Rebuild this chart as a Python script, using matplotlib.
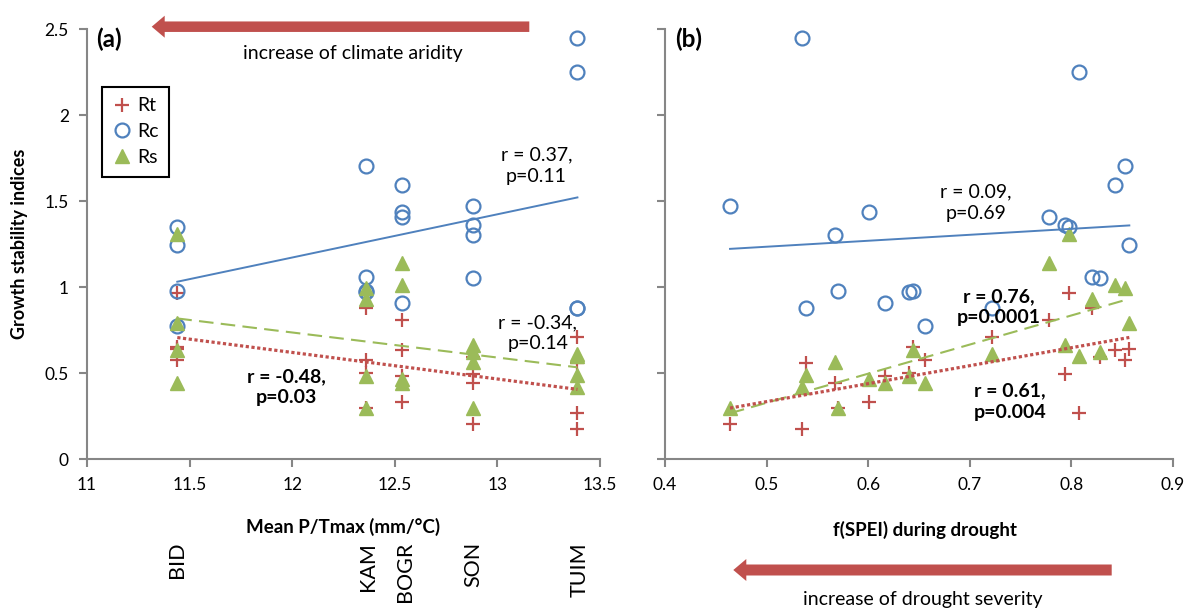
import matplotlib
matplotlib.use('Agg')
import numpy as np
import matplotlib.pyplot as plt
from matplotlib.patches import FancyArrow
from matplotlib.transforms import IdentityTransform

plt.rcParams['font.family'] = ['Lato', 'DejaVu Sans']

# sites and their mean P/Tmax (mm/°C)
sites = ['BID', 'KAM', 'BOGR', 'SON', 'TUIM']
site_ptmax = [11.44, 12.36, 12.535, 12.88, 13.39]

# one entry per drought event (4 per site)
event_site = ['BID'] * 4 + ['KAM'] * 4 + ['BOGR'] * 4 + ['SON'] * 4 + ['TUIM'] * 4
spei = [0.798, 0.857, 0.644, 0.656,
        0.853, 0.820, 0.570, 0.640,
        0.843, 0.601, 0.778, 0.617,
        0.464, 0.794, 0.567, 0.828,
        0.535, 0.807, 0.722, 0.539]
rt = [0.969, 0.640, 0.652, 0.577,
      0.578, 0.880, 0.296, 0.500,
      0.636, 0.333, 0.812, 0.486,
      0.205, 0.498, 0.445, 0.597,
      0.174, 0.270, 0.711, 0.558]
rc = [1.352, 1.246, 0.978, 0.776,
      1.707, 1.060, 0.980, 0.975,
      1.595, 1.438, 1.408, 0.910,
      1.472, 1.365, 1.304, 1.056,
      2.451, 2.250, 0.878, 0.881]
rs = [1.307, 0.794, 0.636, 0.446,
      0.994, 0.930, 0.296, 0.484,
      1.013, 0.467, 1.140, 0.443,
      0.296, 0.665, 0.567, 0.621,
      0.422, 0.603, 0.614, 0.490]

ptmax = [site_ptmax[sites.index(s)] for s in event_site]

red = '#C0504D'
blue = '#4F81BD'
green = '#9BBB59'
grey = '#868686'

W, H = 1189, 608
fig = plt.figure(figsize=(W / 100, H / 100), dpi=100)
ax1 = fig.add_axes([87 / W, 1 - 459.3 / H, 513 / W, 430 / H])
ax2 = fig.add_axes([665 / W, 1 - 459.3 / H, 508 / W, 430 / H])


def draw(ax, x):
    ax.plot(x, rt, ls='none', marker='+', ms=10, mew=1.6, color=red, label='Rt', zorder=3)
    ax.plot(x, rc, ls='none', marker='o', ms=10, mew=1.6, mfc='none', mec=blue, label='Rc', zorder=3)
    ax.plot(x, rs, ls='none', marker='^', ms=10, color=green, label='Rs', zorder=3)
    xx = np.array([min(x), max(x)])
    # linear trend lines
    p = np.polyfit(x, rc, 1)
    ax.plot(xx, np.polyval(p, xx), color=blue, lw=1.4, zorder=4)
    p = np.polyfit(x, rs, 1)
    ax.plot(xx, np.polyval(p, xx), color=green, lw=1.5, dashes=(7, 3.5), zorder=4)
    p = np.polyfit(x, rt, 1)
    ax.plot(xx, np.polyval(p, xx), color=red, lw=2.3, ls=(0, (1, 0.8)),
            dash_capstyle='butt', zorder=4)
    ax.set_ylim(0, 2.5)
    ax.set_yticks([0, 0.5, 1, 1.5, 2, 2.5])
    for s in ['top', 'right']:
        ax.spines[s].set_visible(False)
    for s in ['left', 'bottom']:
        ax.spines[s].set_color(grey)
        ax.spines[s].set_linewidth(1.5)
    ax.tick_params(direction='out', length=6, width=1.5, color=grey, labelsize=12.5, pad=7)


draw(ax1, ptmax)
draw(ax2, spei)

ax1.set_xlim(11, 13.5)
ax1.set_xticks([11, 11.5, 12, 12.5, 13, 13.5])
ax1.set_xticklabels(['11', '11.5', '12', '12.5', '13', '13.5'])
ax1.set_yticklabels(['0', '0.5', '1', '1.5', '2', '2.5'])

ax2.set_xlim(0.4, 0.9)
ax2.set_xticks([0.4, 0.5, 0.6, 0.7, 0.8, 0.9])
ax2.set_xticklabels(['0.4', '0.5', '0.6', '0.7', '0.8', '0.9'])
ax2.set_yticklabels([])

leg = ax1.legend(loc='upper left', bbox_to_anchor=(102.3 / W, 1 - 86.7 / H), bbox_transform=fig.transFigure,
                 borderaxespad=0, fontsize=14, handlelength=0.9, handletextpad=0.35, labelspacing=0.45,
                 borderpad=0.55, fancybox=False, edgecolor='black', framealpha=1)
leg.get_frame().set_linewidth(1.5)

# panel letters
fig.text(96 / W, 1 - 39 / H, '(a)', fontsize=17.5, fontweight='bold', va='center', ha='left')
fig.text(675 / W, 1 - 39 / H, '(b)', fontsize=17.5, fontweight='bold', va='center', ha='left')

# axis labels
fig.text(20 / W, 1 - 244 / H, 'Growth stability indices', rotation=90, fontsize=13,
         fontweight='bold', ha='center', va='center')
fig.text(343 / W, 1 - 527 / H, 'Mean P/Tmax (mm/°C)', fontsize=13.5, fontweight='bold',
         ha='center', va='center')
fig.text(925 / W, 1 - 530 / H, 'f(SPEI) during drought', fontsize=13.5, fontweight='bold',
         ha='center', va='center')

# site names under panel (a)
site_px = [176.7, 368, 405, 473, 580]
for name, px in zip(sites, site_px):
    fig.text(px / W, 1 - 542 / H, name, rotation=90, fontsize=15.5, ha='center', va='top')

# correlation notes
ax1.text(13.19, 1.706, 'r = 0.37,\np=0.11', fontsize=14, ha='center', va='center', linespacing=1.3)
ax1.text(13.197, 0.734, 'r = -0.34,\np=0.14', fontsize=14, ha='center', va='center', linespacing=1.3)
ax1.text(11.974, 0.42, 'r = -0.48,\np=0.03', fontsize=14, fontweight='bold', ha='center',
         va='center', linespacing=1.3)
ax2.text(0.7058, 1.493, 'r = 0.09,\np=0.69', fontsize=14, ha='center', va='center', linespacing=1.3)
ax2.text(0.7289, 0.885, 'r = 0.76,\np=0.0001', fontsize=14, fontweight='bold', ha='center',
         va='center', linespacing=1.3)
ax2.text(0.7392, 0.335, 'r = 0.61,\np=0.004', fontsize=14, fontweight='bold', ha='center',
         va='center', linespacing=1.3)

# arrows
fig.add_artist(FancyArrow(529.3, H - 26.7, 151.7 - 529.3, 0, width=10.5, head_width=22,
                          head_length=13, length_includes_head=True, color=red, lw=0,
                          transform=IdentityTransform()))
fig.text(353 / W, 1 - 53 / H, 'increase of climate aridity', fontsize=14, ha='center', va='center')
fig.add_artist(FancyArrow(1111.7, H - 570, 733.3 - 1111.7, 0, width=11, head_width=22,
                          head_length=13, length_includes_head=True, color=red, lw=0,
                          transform=IdentityTransform()))
fig.text(923 / W, 1 - 600 / H, 'increase of drought severity', fontsize=14, ha='center', va='center')

fig.savefig('out.png', dpi=100)
